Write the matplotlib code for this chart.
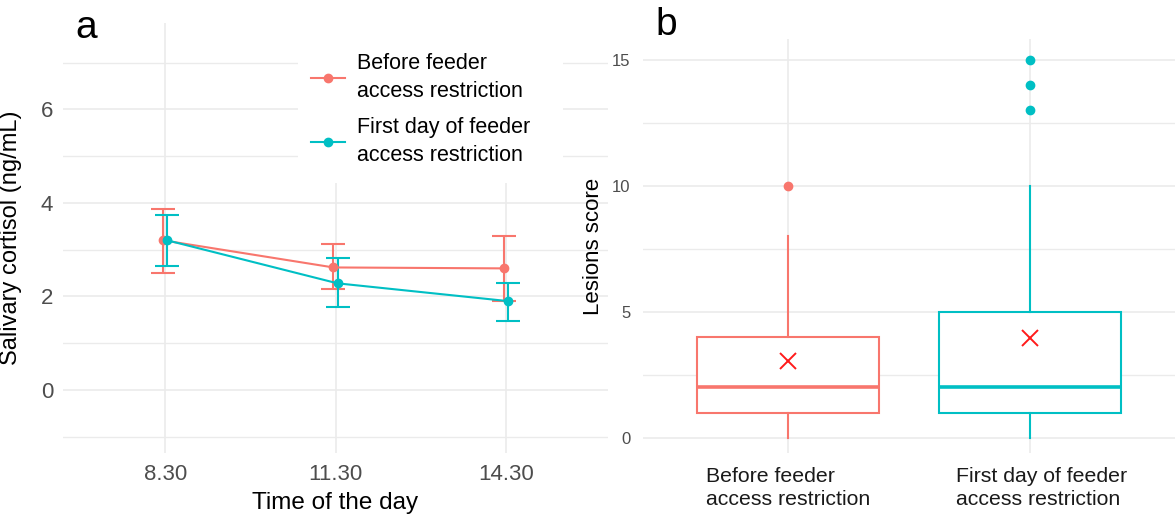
import matplotlib
matplotlib.use("Agg")
import matplotlib.pyplot as plt
import matplotlib.transforms as mtransforms
from matplotlib.lines import Line2D
from matplotlib.patches import Rectangle

plt.rcParams["font.family"] = ["Liberation Sans", "DejaVu Sans"]

# panel a: salivary cortisol
times = ["8.30", "11.30", "14.30"]
before_mean = [3.20, 2.62, 2.60]
before_lo = [2.50, 2.15, 1.90]
before_hi = [3.88, 3.12, 3.30]
first_mean = [3.20, 2.28, 1.90]
first_lo = [2.65, 1.78, 1.48]
first_hi = [3.75, 2.82, 2.28]

# panel b: lesion score boxplots
groups = ["Before feeder\naccess restriction", "First day of feeder\naccess restriction"]
box_q1 = [1, 1]
box_med = [2, 2]
box_q3 = [4, 5]
box_wlo = [0, 0]
box_whi = [8, 10]
box_mean = [3.05, 3.95]
box_out = [[10], [13, 14, 15]]

RED = "#F8766D"
TEAL = "#00BFC4"
GRID = "#EBEBEB"
TICK = "#4D4D4D"

fig = plt.figure(figsize=(11.75, 5.17), dpi=100)
W, H = 1175, 517
ax1 = fig.add_axes([63 / W, 1 - 453 / H, 545 / W, 430 / H])
ax2 = fig.add_axes([643 / W, 1 - 453 / H, 532 / W, 414 / H])

for ax in (ax1, ax2):
    for s in ax.spines.values():
        s.set_visible(False)
    ax.tick_params(length=0)
    ax.set_axisbelow(True)

# ---- panel a
x = list(range(1, len(times) + 1))
dodge = 0.012
for means, lo, hi, col, off in [
    (before_mean, before_lo, before_hi, RED, -dodge),
    (first_mean, first_lo, first_hi, TEAL, dodge),
]:
    xs = [v + off for v in x]
    yerr = [[m - l for m, l in zip(means, lo)], [h - m for m, h in zip(means, hi)]]
    ax1.errorbar(xs, means, yerr=yerr, fmt="none", ecolor=col, elinewidth=1.5,
                 capsize=8.5, capthick=1.5, zorder=3)
    ax1.plot(xs, means, color=col, lw=1.5, marker="o", ms=6, zorder=4)

ax1.set_xlim(0.4, 3.6)
ax1.set_ylim(-1.35, 7.85)
ax1.set_xticks(x)
ax1.set_xticklabels(times)
ax1.set_yticks([0, 2, 4, 6])
ax1.set_yticks([-1, 1, 3, 5, 7], minor=True)
ax1.tick_params(which="both", length=0)
ax1.tick_params(axis="both", labelsize=16, labelcolor=TICK)
ax1.tick_params(axis="y", pad=7)
ax1.tick_params(axis="x", pad=8)
ax1.grid(True, which="major", color=GRID, lw=1.2)
ax1.grid(True, which="minor", axis="y", color=GRID, lw=1.0)
ax1.set_xlabel("Time of the day", fontsize=17.5, labelpad=5)
ax1.set_ylabel("Salivary cortisol (ng/mL)", fontsize=17)
ax1.yaxis.set_label_coords(-0.075, 0.5)

# white legend background hides the grid behind it
ax1.add_patch(Rectangle((298 / W, 1 - 183 / H), (563 - 298) / W, 165 / H,
                        transform=fig.transFigure, facecolor="white",
                        edgecolor="none", zorder=1))
handles = [Line2D([], [], color=RED, lw=1.5, marker="o", ms=6),
           Line2D([], [], color=TEAL, lw=1.5, marker="o", ms=6)]
leg = ax1.legend(handles, ["Before feeder\naccess restriction",
                           "First day of feeder\naccess restriction"],
                 loc="upper left", bbox_to_anchor=(300 / W, 1 - 42 / H),
                 bbox_transform=fig.transFigure, fontsize=15.5, frameon=False,
                 handlelength=1.6, handletextpad=0.55, labelspacing=0.68,
                 borderpad=0.0)
for t in leg.get_texts():
    t.set_linespacing(1.45)

# ---- panel b
cols = [RED, TEAL]
stats = []
for i in range(len(groups)):
    stats.append(dict(med=box_med[i], q1=box_q1[i], q3=box_q3[i],
                      whislo=box_wlo[i], whishi=box_whi[i], fliers=box_out[i]))
bp = ax2.bxp(stats, positions=[1, 2], widths=0.75, showfliers=True, patch_artist=True,
             manage_ticks=False)
for i, c in enumerate(cols):
    bp["boxes"][i].set(facecolor="white", edgecolor=c, lw=1.5)
    bp["medians"][i].set(color=c, lw=2.6)
    for w in bp["whiskers"][2 * i:2 * i + 2]:
        w.set(color=c, lw=1.5)
    for cp in bp["caps"][2 * i:2 * i + 2]:
        cp.set_visible(False)
    bp["fliers"][i].set(marker="o", markerfacecolor=c, markeredgecolor=c, markersize=6)
ax2.plot([1, 2], box_mean, ls="none", marker="x", color="#FF1A1A", ms=11, mew=1.4, zorder=5)

ax2.set_xlim(0.4, 2.6)
ax2.set_ylim(-0.6, 15.83)
ax2.set_xticks([1, 2])
ax2.set_xticklabels(groups, multialignment="left", linespacing=1.3)
ax2.set_yticks([0, 5, 10, 15])
ax2.set_yticks([2.5, 7.5, 12.5], minor=True)
ax2.tick_params(which="both", length=0)
ax2.tick_params(axis="y", labelsize=12, labelcolor=TICK, pad=9)
ax2.tick_params(axis="x", labelsize=15.3, labelcolor="#1A1A1A", pad=10)
ax2.grid(True, which="major", color=GRID, lw=1.2)
ax2.grid(True, which="minor", axis="y", color=GRID, lw=1.0)
ax2.set_ylabel("Lesions score", fontsize=16, labelpad=6)
# second group label sits a little right of its tick in the original
lbl = ax2.get_xticklabels()[1]
lbl.set_transform(lbl.get_transform() + mtransforms.ScaledTranslation(12 / 100, 0, fig.dpi_scale_trans))

fig.text(75 / W, 1 - 28 / H, "a", fontsize=28, va="center", ha="left")
fig.text(655 / W, 1 - 25 / H, "b", fontsize=28, va="center", ha="left")

fig.savefig("out.png", dpi=100)
